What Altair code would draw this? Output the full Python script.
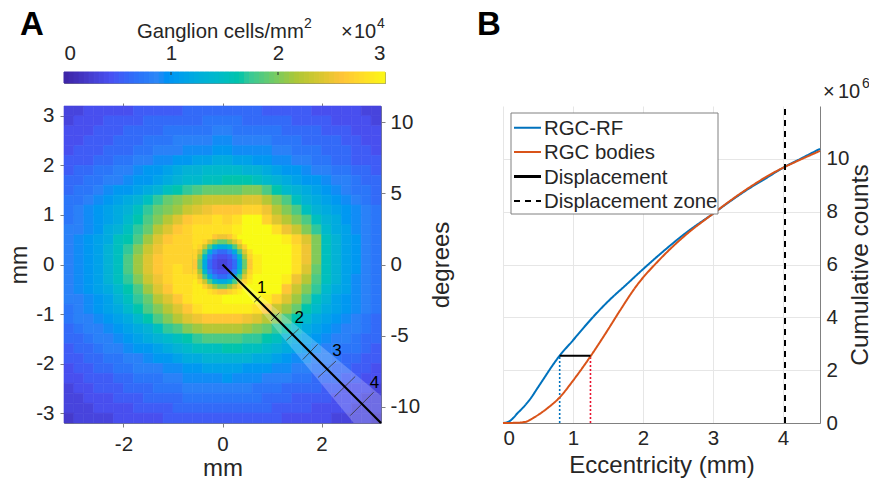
import altair as alt
import pandas as pd

FONT = "Liberation Sans"
GRAY = "#808080"
TXT = "#262626"

# cell centres in mm
xs = [round(-3.1 + 0.2 * i, 1) for i in range(32)]
ys = [round(3.1 - 0.2 * i, 1) for i in range(32)]

# density, thousands of cells/mm2, top row first
rows = [
 [3,3,4,4,4,4,4,5,5,5,5,5,6,6,6,6,6,6,6,6,5,5,5,5,5,4,4,4,4,4,3,3],
 [3,4,4,4,5,5,5,5,6,6,6,6,6,6,7,7,7,7,6,6,6,6,6,5,5,5,5,4,4,4,4,3],
 [4,4,4,5,5,5,6,6,6,6,7,7,7,7,7,8,8,7,7,7,7,7,6,6,6,6,5,5,5,4,4,4],
 [4,4,5,5,5,6,6,6,7,7,7,8,8,8,8,9,9,8,8,8,8,7,7,7,6,6,6,6,5,5,4,4],
 [4,5,5,5,6,6,6,7,7,8,8,8,9,9,9,10,10,9,9,9,9,8,8,7,7,7,6,6,6,5,5,4],
 [5,5,5,6,6,7,7,8,8,9,9,10,10,11,11,12,12,11,11,10,10,9,9,8,8,7,7,6,6,5,5,5],
 [5,6,6,7,7,8,8,9,10,10,11,12,13,13,14,14,14,14,13,13,12,11,10,10,9,8,8,7,7,6,6,5],
 [6,6,7,7,8,8,9,10,10,11,12,13,14,14,15,15,16,16,16,15,14,13,12,11,10,10,9,8,8,7,6,6],
 [6,7,7,8,9,10,10,11,12,13,15,16,17,18,19,19,19,19,20,20,18,16,14,13,12,11,10,9,8,7,7,6],
 [7,7,8,9,10,11,12,13,15,17,19,20,21,22,23,23,23,23,24,24,22,20,18,15,13,12,11,10,9,8,7,6],
 [7,8,9,10,11,12,13,15,17,19,20,21,23,24,25,26,26,26,27,27,25,22,20,18,15,13,12,11,10,9,8,7],
 [7,8,9,10,11,12,14,16,18,20,22,24,26,27,27,28,27,28,30,30,27,24,22,20,18,15,13,12,10,9,8,7],
 [8,8,9,10,12,13,15,17,19,22,24,26,27,28,28,28,28,29,30,30,30,28,25,23,20,17,14,12,11,9,8,7],
 [8,9,10,11,12,15,16,18,21,24,26,27,27,27,27,25,25,28,30,30,30,30,29,27,24,20,15,13,11,10,8,7],
 [8,9,10,11,13,15,17,20,23,25,27,27,27,24,16,12,12,16,25,30,30,30,30,28,25,20,15,13,11,10,8,7],
 [8,9,10,11,13,15,18,21,24,26,27,27,27,21,11,4,4,11,22,29,30,30,30,28,25,20,15,13,11,10,8,7],
 [8,9,10,11,13,15,18,21,24,26,27,28,27,21,11,4,4,11,22,29,30,30,30,28,24,19,15,13,11,10,8,7],
 [8,9,10,11,13,15,17,20,23,25,27,28,28,25,16,11,11,16,25,30,30,30,29,25,22,18,15,13,11,9,8,7],
 [8,9,10,11,12,14,16,18,21,24,26,28,28,28,28,25,26,29,30,30,30,30,26,23,20,17,14,12,11,9,8,7],
 [8,8,9,10,11,13,15,17,19,22,24,26,28,29,29,29,30,30,30,30,29,27,24,21,18,15,13,11,10,9,8,7],
 [7,8,9,10,11,12,14,16,18,20,22,24,26,28,29,29,29,29,29,28,26,23,21,19,16,14,12,11,10,9,8,7],
 [7,8,8,9,10,11,12,14,16,18,20,22,24,25,26,26,26,26,25,24,22,20,18,16,14,12,11,10,9,8,7,6],
 [6,7,8,8,9,10,11,12,13,15,17,18,20,21,22,22,22,22,21,20,19,17,16,14,12,11,10,9,8,8,7,6],
 [6,6,7,8,8,9,10,11,12,13,14,15,16,17,18,18,18,18,17,17,16,15,13,12,11,10,9,8,8,7,6,6],
 [5,6,6,7,8,8,9,10,10,11,12,13,14,15,15,15,16,16,15,15,14,13,12,11,10,9,8,8,7,7,6,5],
 [5,5,6,6,7,7,8,8,9,10,10,11,12,12,13,13,13,13,13,12,12,11,10,9,9,8,8,7,6,6,5,5],
 [4,5,5,6,6,7,7,8,8,8,9,9,10,10,11,11,11,11,10,10,10,9,9,8,8,7,7,6,6,5,5,4],
 [4,4,5,5,5,6,6,7,7,7,8,8,9,9,9,9,10,9,9,9,8,8,8,7,7,6,6,6,5,5,4,4],
 [3,4,4,5,5,5,6,6,6,7,7,7,8,8,8,8,8,8,8,7,7,7,6,6,6,6,5,5,4,4,4,3],
 [3,3,4,4,4,5,5,5,6,6,6,6,7,7,7,7,7,7,7,7,6,6,6,5,5,5,5,4,4,4,3,3],
 [3,3,3,4,4,4,4,5,5,5,5,6,6,6,6,6,6,6,6,6,6,5,5,5,5,4,4,4,4,3,3,3],
 [2,3,3,3,3,4,4,4,4,4,5,5,5,5,5,5,5,5,5,5,5,5,4,4,4,4,4,3,3,3,3,2],
]

# finer reading of the foveal pit, 0.1 mm cells
pit_xs = [round(-0.55 + 0.1 * i, 2) for i in range(12)]
pit_ys = [round(0.55 - 0.1 * i, 2) for i in range(12)]
pit_rows = [
 [28,28,28,28,26,25,25,26,28,30,30,30],
 [28,28,27,24,21,19,19,21,24,27,30,30],
 [28,27,23,18,14,12,12,14,18,23,27,30],
 [27,24,18,12,8,6,6,8,12,18,24,28],
 [27,21,14,8,5,4,4,5,8,14,21,27],
 [26,19,12,6,4,3,3,4,6,12,19,26],
 [26,19,12,6,4,3,3,4,6,12,19,26],
 [27,21,14,8,5,4,4,5,8,14,21,27],
 [28,24,18,12,8,6,6,8,12,18,24,28],
 [29,27,23,18,14,12,12,14,18,23,27,29],
 [29,29,27,24,21,19,19,21,24,27,29,30],
 [29,29,29,28,27,26,26,27,28,29,30,30],
]

parula = ["#3e26a8", "#4852f4", "#2d87f7", "#12b1d6", "#37c897", "#abc739", "#fec338", "#f9fb15"]
color_domain = [0, 30/7, 60/7, 90/7, 120/7, 150/7, 180/7, 30]
cbar_steps = [30 * i / 64 for i in range(64)]
cbar_ticks = [10, 20]

ray_x, ray_y = [0, 3.2], [0, -3.2]
wedge_x = [0.0, 2.65, 3.2]
wedge_top = [0.0, -2.19, -2.65]
wedge_bot = [0.0, -3.2, -3.2]
tick_x1 = [0.64, 0.98, 1.29, 1.62, 1.93, 2.26, 2.58]
tick_y1 = [-0.76, -1.14, -1.53, -1.92, -2.28, -2.67, -3.05]
tick_x2 = [0.77, 1.15, 1.54, 1.92, 2.29, 2.68, 3.05]
tick_y2 = [-0.64, -0.97, -1.30, -1.61, -1.95, -2.26, -2.58]
lab_x = [0.79, 1.55, 2.31, 3.07]
lab_y = [-0.47, -1.09, -1.75, -2.39]
lab_t = ["1", "2", "3", "4"]
deg_ticks = [-10, -5, 0, 5, 10]
top_ticks = [-2, 0, 2]

rf_x = [0,.05,.1,.15,.2,.3,.4,.5,.6,.7,.81,1,1.15,1.29,1.5,1.767,2,2.243,2.62,3,3.25,3.5,3.75,4,4.25,4.53]
rf_y = [0,.02,.08,.2,.35,.62,.95,1.35,1.75,2.15,2.55,3.13,3.6,4.02,4.6,5.25,5.82,6.39,7.21,7.92,8.4,8.85,9.25,9.66,10.0,10.38]
body_x = [0,.2,.33,.45,.62,.81,1,1.257,1.48,1.67,1.91,2.243,2.62,3,3.25,3.5,3.75,4,4.25,4.53]
body_y = [0,.01,.05,.22,.53,.97,1.6,2.55,3.45,4.25,5.2,6.2,7.14,7.92,8.42,8.88,9.3,9.66,9.97,10.3]
disp_x, disp_y = [.81, 1.25], [2.55, 2.55]
zone_x, zone_y = [4.03, 4.03], [0, 12]
series = ["RGC-RF", "RGC bodies", "Displacement", "Displacement zone"]
series_col = ["#0072BD", "#D95319", "#000000", "#000000"]
series_w = [2, 2, 3.2, 2]
series_dash = [[1, 0], [1, 0], [1, 0], [6, 5]]

X_MM = alt.Scale(domain=[-3.2, 3.2])
Y_MM = alt.Scale(domain=[-3.2, 3.2])
Y_DEG = alt.Scale(domain=[-11.15, 11.15])
COL = alt.Scale(domain=color_domain, range=parula)

heat_df = pd.DataFrame([
    {"x0": x - .1, "x1": x + .1, "y0": y - .1, "y1": y + .1, "v": v}
    for y, r in zip(ys, rows) for x, v in zip(xs, r)
])
pit_df = pd.DataFrame([
    {"x0": x - .05, "x1": x + .05, "y0": y - .05, "y1": y + .05, "v": v}
    for y, r in zip(pit_ys, pit_rows) for x, v in zip(pit_xs, r)
])

def label(text, px, py, size=19, weight="normal", color=TXT):
    return alt.Chart(pd.DataFrame({"t": [text]})).mark_text(
        font=FONT, fontSize=size, fontWeight=weight, align="left", baseline="alphabetic", color=color
    ).encode(text="t:N", x=alt.value(px), y=alt.value(py))

# ---------- colour bar
cb = alt.Chart(pd.DataFrame({"a": cbar_steps, "b": [c + 30 / 64 for c in cbar_steps]})).mark_rect().encode(
    x=alt.X("a:Q", scale=alt.Scale(domain=[0, 30]), title=None,
            axis=alt.Axis(orient="top", values=[0, 10, 20, 30], labelExpr="datum.value/10",
                          tickSize=0, domain=False, grid=False, labelPadding=9)),
    x2="b:Q",
    color=alt.Color("a:Q", scale=COL, legend=None),
    stroke=alt.Stroke("a:Q", scale=COL, legend=None),
)
cb_t = alt.Chart(pd.DataFrame({"v": cbar_ticks})).mark_rule(color="#333333", strokeWidth=1).encode(
    x=alt.X("v:Q", scale=alt.Scale(domain=[0, 30])), y=alt.value(0), y2=alt.value(3))
colorbar = alt.layer(
    cb, cb_t,
    label("A", -44, -37, 33, "bold", "#000000"),
    label("Ganglion cells/mm", 73, -34, 20.3),
    label("2", 240, -44, 14),
    label("×", 277, -34, 20),
    label("10", 290, -34, 20),
    label("4", 313, -44, 14),
).properties(width=321, height=11, view=alt.ViewBackground(stroke=GRAY))

# ---------- spacer with panel letter
spacer = alt.layer(
    label("B", -26, -37, 33, "bold", "#000000"),
).properties(width=317, height=11, view=alt.ViewBackground(stroke="transparent"))

# ---------- density map
hx = alt.X("x0:Q", scale=X_MM, title="mm", axis=alt.Axis(values=[-2, 0, 2], labelExpr="toString(datum.value)", grid=False, domain=False, tickSize=4, labelPadding=7, titleFontSize=24, titlePadding=2))
hy = alt.Y("y0:Q", scale=Y_MM, title="mm", axis=alt.Axis(values=[-3, -2, -1, 0, 1, 2, 3], labelExpr="toString(datum.value)", grid=False, domain=False, tickSize=4, labelPadding=6, titleFontSize=23, titlePadding=4))
heat = alt.Chart(heat_df).mark_rect(strokeWidth=0.6).encode(
    x=hx, x2="x1:Q", y=hy, y2="y1:Q",
    color=alt.Color("v:Q", scale=COL, legend=None),
    stroke=alt.Stroke("v:Q", scale=COL, legend=None),
)
plain_x = lambda f: alt.X(f, scale=X_MM, axis=None)
plain_y = lambda f: alt.Y(f, scale=Y_MM, axis=None)
pit = alt.Chart(pit_df).mark_rect(strokeWidth=0.6).encode(
    x=plain_x("x0:Q"), x2="x1:Q", y=plain_y("y0:Q"), y2="y1:Q",
    color=alt.Color("v:Q", scale=COL, legend=None),
    stroke=alt.Stroke("v:Q", scale=COL, legend=None),
)
wedge = alt.Chart(pd.DataFrame({"x": wedge_x, "t": wedge_top, "b": wedge_bot})).mark_area(color="white", opacity=0.22).encode(
    x=plain_x("x:Q"), y=plain_y("t:Q"), y2="b:Q")
ticks = alt.Chart(pd.DataFrame({"a": tick_x1, "b": tick_y1, "c": tick_x2, "d": tick_y2})).mark_rule(color="#333333", strokeWidth=0.8).encode(
    x=plain_x("a:Q"), y=plain_y("b:Q"), x2="c:Q", y2="d:Q")
ray = alt.Chart(pd.DataFrame({"x": ray_x, "y": ray_y})).mark_line(color="black", strokeWidth=2.2).encode(
    x=plain_x("x:Q"), y=plain_y("y:Q"))
nums = alt.Chart(pd.DataFrame({"x": lab_x, "y": lab_y, "t": lab_t})).mark_text(font=FONT, fontSize=17, color="black").encode(
    x=plain_x("x:Q"), y=plain_y("y:Q"), text="t:N")
deg = alt.Chart(pd.DataFrame({"d": deg_ticks})).mark_point(opacity=0).encode(
    y=alt.Y("d:Q", scale=Y_DEG, title="degrees",
            axis=alt.Axis(orient="right", values=deg_ticks, labelExpr="toString(datum.value)", grid=False, domain=False, tickSize=4, titleAngle=270, titlePadding=34, titleFontSize=24, labelPadding=5)),
    x=alt.value(0),
)
top = alt.Chart(pd.DataFrame({"d": top_ticks})).mark_point(opacity=0).encode(
    x=alt.X("d:Q", scale=X_MM, axis=alt.Axis(orient="top", values=top_ticks, labels=False, grid=False, domain=False, tickSize=3, title=None)),
    y=alt.value(0),
)
density = alt.layer(heat, pit, wedge, ticks, ray, nums, deg, top).resolve_scale(x="independent", y="independent").properties(
    width=317, height=317, view=alt.ViewBackground(stroke=GRAY))

# ---------- cumulative curves
curve_df = pd.concat([
    pd.DataFrame({"x": rf_x, "y": rf_y, "s": series[0]}),
    pd.DataFrame({"x": body_x, "y": body_y, "s": series[1]}),
    pd.DataFrame({"x": disp_x, "y": disp_y, "s": series[2]}),
    pd.DataFrame({"x": zone_x, "y": zone_y, "s": series[3]}),
])
RX = alt.Scale(domain=[0, 4.53])
RY = alt.Scale(domain=[0, 12])
lines = alt.Chart(curve_df).mark_line(interpolate="monotone").encode(
    x=alt.X("x:Q", scale=RX, title="Eccentricity (mm)", axis=alt.Axis(values=[0, 1, 2, 3, 4], labelExpr="toString(datum.value)", tickSize=0, grid=True, gridColor="#e6e6e6", domainColor=GRAY, labelPadding=5, titleFontSize=24, titlePadding=5)),
    y=alt.Y("y:Q", scale=RY, title="Cumulative counts", axis=alt.Axis(orient="right", values=[0, 2, 4, 6, 8, 10], tickSize=0, grid=True, gridColor="#e6e6e6", domainColor=GRAY, titleAngle=270, titlePadding=24, titleFontSize=24.5, labelPadding=6)),
    color=alt.Color("s:N", scale=alt.Scale(domain=series, range=series_col), legend=None),
    strokeWidth=alt.StrokeWidth("s:N", scale=alt.Scale(domain=series, range=series_w), legend=None),
    strokeDash=alt.StrokeDash("s:N", scale=alt.Scale(domain=series, range=series_dash), legend=None),
    order=alt.Order("x:Q"),
)
dot_b = alt.Chart(pd.DataFrame({"x": [.81, .81], "y": [0, 2.55]})).mark_line(color="#0072BD", strokeWidth=1.6, strokeDash=[2, 2]).encode(
    x=alt.X("x:Q", scale=RX), y=alt.Y("y:Q", scale=RY))
dot_r = alt.Chart(pd.DataFrame({"x": [1.25, 1.25], "y": [0, 2.55]})).mark_line(color="#e8112d", strokeWidth=1.6, strokeDash=[2, 2]).encode(
    x=alt.X("x:Q", scale=RX), y=alt.Y("y:Q", scale=RY))

# hand-built legend box, as in the figure
box = alt.Chart(pd.DataFrame({"k": [0]})).mark_rect(fill="white", stroke=GRAY, strokeWidth=1).encode(
    x=alt.value(8), x2=alt.value(215), y=alt.value(7), y2=alt.value(108))
leg_y = [21.7, 46, 70.5, 95]
def swatch(i):
    return alt.Chart(pd.DataFrame({"k": [0]})).mark_rule(
        color=series_col[i], strokeWidth=series_w[i], strokeDash=series_dash[i]
    ).encode(x=alt.value(11), x2=alt.value(38), y=alt.value(leg_y[i]))
legend_parts = [box] + [swatch(i) for i in range(4)] + [label(series[i], 41, leg_y[i] + 7, 20.4) for i in range(4)]

curves = alt.layer(
    dot_b, dot_r, lines, *legend_parts,
    label("×", 320, -8, 20), label("10", 335, -8, 20), label("6", 359, -18, 14),
).properties(width=317, height=317, view=alt.ViewBackground(stroke="transparent"))

chart = alt.concat(colorbar, spacer, density, curves, columns=2).properties(
    spacing=alt.RowColnumber(row=23, column=118), bounds="flush",
    padding={"left": 0, "top": 0, "right": -4, "bottom": -1},
).configure_axis(
    labelFont=FONT, titleFont=FONT, labelFontSize=20.5, titleFontSize=22, labelColor=TXT, titleColor=TXT,
    titleFontWeight="normal", tickColor=GRAY,
)

chart.save("out.html", embed_options={"renderer": "svg", "actions": False})
